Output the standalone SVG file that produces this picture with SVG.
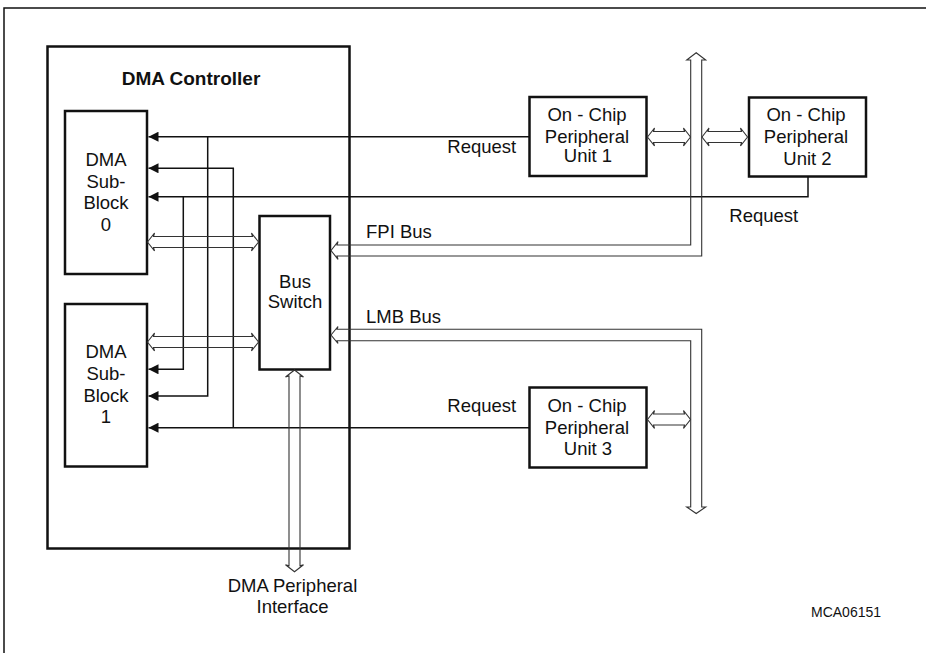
<svg xmlns="http://www.w3.org/2000/svg" width="926" height="653" viewBox="0 0 926 653">
<style>
text{font-family:"Liberation Sans",Arial,sans-serif;font-size:18.5px;fill:#111}
.c{text-anchor:middle}
.box{fill:none;stroke:#111;stroke-width:2.5}
.req{fill:none;stroke:#111;stroke-width:1.5}
.bus{fill:none;stroke:#333;stroke-width:1.1;stroke-linejoin:miter}
</style>
<defs>
<marker id="ah" viewBox="0 0 10 10" refX="10" refY="5" markerWidth="10" markerHeight="10" orient="auto" markerUnits="userSpaceOnUse"><path d="M0,0 L10,5 L0,10 Z" fill="#111"/></marker>
</defs>
<rect width="926" height="653" fill="#fff"/>
<path d="M4,653 V8 H926" fill="none" stroke="#111" stroke-width="1.5"/>

<g id="dma-controller">
<rect class="box" x="47.5" y="46.5" width="302" height="502"/>
<text x="191" y="85" class="c" style="font-weight:bold;font-size:19px">DMA Controller</text>
</g>
<g id="sub-block-0">
<rect class="box" x="65" y="111" width="82" height="163"/>
<text class="c" x="106" y="166">DMA</text>
<text class="c" x="106" y="187.5">Sub-</text>
<text class="c" x="106" y="209">Block</text>
<text class="c" x="106" y="230.5">0</text>
</g>
<g id="sub-block-1">
<rect class="box" x="65" y="304" width="82" height="162.5"/>
<text class="c" x="106" y="358.3">DMA</text>
<text class="c" x="106" y="380">Sub-</text>
<text class="c" x="106" y="401.7">Block</text>
<text class="c" x="106" y="423.3">1</text>
</g>
<g id="bus-switch">
<rect class="box" x="259.5" y="216" width="70.5" height="153.5"/>
<text class="c" x="295" y="288.3">Bus</text>
<text class="c" x="295" y="308.3">Switch</text>
</g>
<g id="unit-1">
<rect class="box" x="529.5" y="97" width="117" height="79"/>
<text class="c" x="587" y="120.7">On - Chip</text>
<text class="c" x="587" y="143.3">Peripheral</text>
<text class="c" x="588" y="162.3">Unit 1</text>
</g>
<g id="unit-2">
<rect class="box" x="749" y="97.5" width="117" height="79"/>
<text class="c" x="806" y="120.7">On - Chip</text>
<text class="c" x="806" y="143.3">Peripheral</text>
<text class="c" x="807.5" y="165">Unit 2</text>
</g>
<g id="unit-3">
<rect class="box" x="529.5" y="387.5" width="117" height="80"/>
<text class="c" x="587" y="412.3">On - Chip</text>
<text class="c" x="587" y="434">Peripheral</text>
<text class="c" x="588" y="455">Unit 3</text>
</g>

<g id="connectors">
<path class="req" d="M529,136.7 H148.5" marker-end="url(#ah)"/>
<path class="req" d="M207.7,136.7 V396 H148.5" marker-end="url(#ah)"/>
<path class="req" d="M808,176.7 V196.7 H148.5" marker-end="url(#ah)"/>
<path class="req" d="M183.3,196.7 V369.3 H148.5" marker-end="url(#ah)"/>
<path class="req" d="M529,427.7 H148.5" marker-end="url(#ah)"/>
<path class="req" d="M233.3,427.7 V168.3 H148.5" marker-end="url(#ah)"/>

<path class="bus" d="M147.5,242 L154.5,233 L153.5,236.5 L252.5,236.5 L251.5,233 L258.5,242 L251.5,251 L252.5,247.5 L153.5,247.5 L154.5,251 Z"/>
<path class="bus" d="M147.5,342 L154.5,333 L153.5,336.5 L252.5,336.5 L251.5,333 L258.5,342 L251.5,351 L252.5,347.5 L153.5,347.5 L154.5,351 Z"/>
<path class="bus" d="M647.5,137 L654.5,128 L653.5,131.5 L684.5,131.5 L683.5,128 L690.5,137 L683.5,146 L684.5,142.5 L653.5,142.5 L654.5,146 Z"/>
<path class="bus" d="M702,137 L709,128 L708,131.5 L741.5,131.5 L740.5,128 L747.5,137 L740.5,146 L741.5,142.5 L708,142.5 L709,146 Z"/>
<path class="bus" d="M647.5,419.5 L654.5,410.5 L653.5,414 L684.5,414 L683.5,410.5 L690.5,419.5 L683.5,428.5 L684.5,425 L653.5,425 L654.5,428.5 Z"/>

<path class="bus" d="M331,250.5 L338,241.7 L337,245 L690.7,245 L690.7,60 L686.7,60 L696.2,52.7 L705.7,60 L701.7,60 L701.7,256 L337,256 L338,259.3 Z"/>
<path class="bus" d="M331,335 L338,326.5 L337,329.3 L701.7,329.3 L701.7,507 L705.7,507 L696.2,513.5 L686.7,507 L690.7,507 L690.7,340.7 L337,340.7 L338,343.5 Z"/>
<path class="bus" d="M294.5,370 L303.5,377 L300,376 L300,565.7 L303.5,564.7 L294.5,571.7 L285.5,564.7 L289,565.7 L289,376 L285.5,377 Z"/>

<text x="447.3" y="152.7">Request</text>
<text x="729.3" y="221.7">Request</text>
<text x="447.3" y="411.7">Request</text>
<text x="366" y="238.3">FPI Bus</text>
<text x="366" y="323.3">LMB Bus</text>
</g>

<text class="c" x="292.5" y="591.7">DMA Peripheral</text>
<text class="c" x="292.5" y="612.7">Interface</text>
<text x="811" y="617.3" style="font-size:14px">MCA06151</text>
</svg>
